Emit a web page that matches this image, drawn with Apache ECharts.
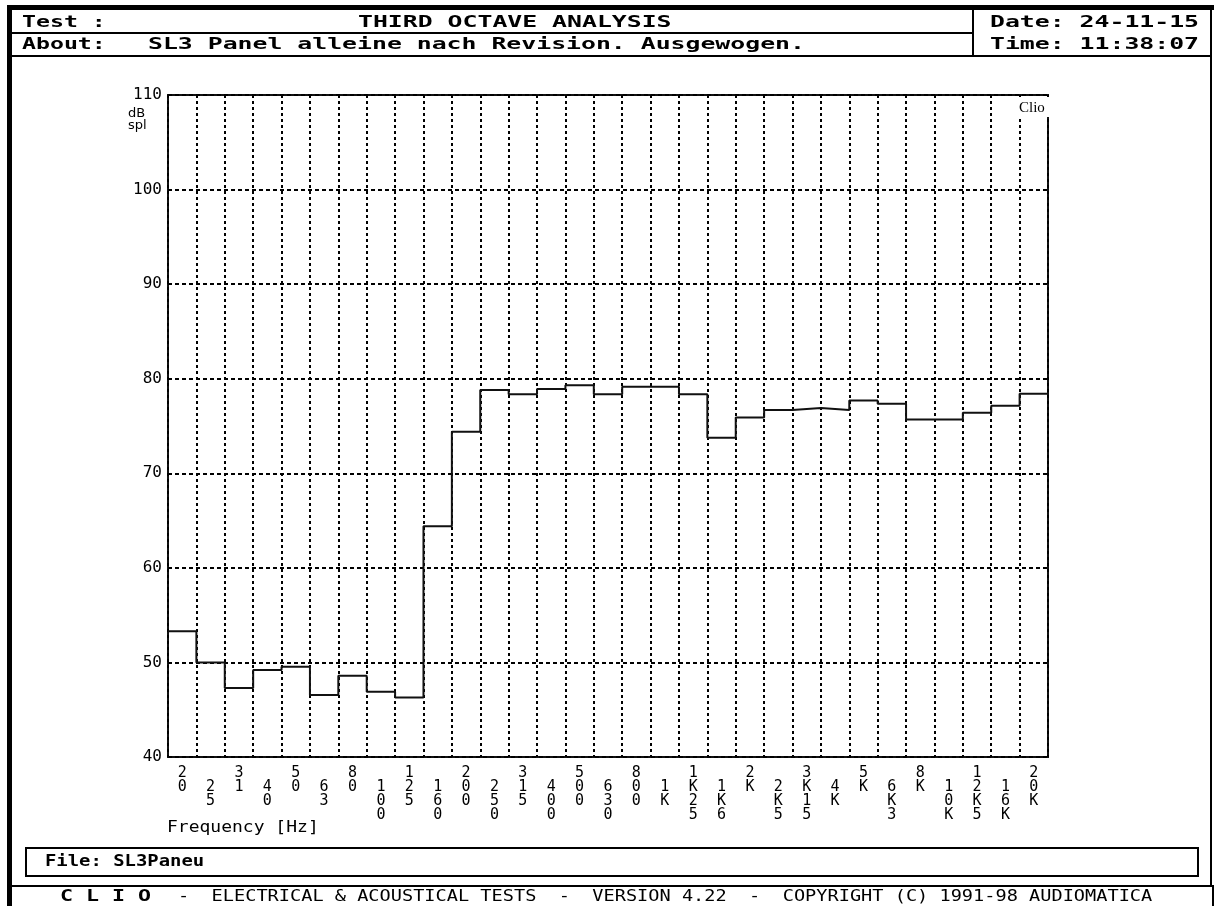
<!DOCTYPE html>
<html>
<head>
<meta charset="utf-8">
<title>Third octave analysis</title>
<script src="https://cdn.jsdelivr.net/npm/echarts@6/dist/echarts.min.js"></script>
<style>
  html, body { margin: 0; padding: 0; background: #fff; }
  #chart { width: 1214px; height: 906px; }
</style>
</head>
<body>
<div id="chart"></div>
<script>
// third octave bands (labels) and measured levels in dB spl
var bands = ['20', '25', '31', '40', '50', '63', '80', '100', '125', '160',
             '200', '250', '315', '400', '500', '630', '800', '1K', '1K25', '1K6',
             '2K', '2K5', '3K15', '4K', '5K', '6K3', '8K', '10K', '12K5', '16K', '20K'];
var levels = [53.3, 50.0, 47.3, 49.2, 49.55, 46.55, 48.6, 46.9, 46.3, 64.4,
              74.4, 78.8, 78.35, 78.9, 79.3, 78.35, 79.15, 79.15, 78.35, 73.75,
              75.9, 76.7, 76.9, 76.7, 77.7, 77.35, 75.7, 75.7, 76.4, 77.15, 78.4];
var yMin = 40, yMax = 110, yStep = 10;

// each band is drawn from its left edge to the next one
var stepData = levels.map(function (v, i) { return [i, v]; });
stepData.push([levels.length, levels[levels.length - 1]]);

var mono = '"DejaVu Sans Mono", monospace';

function txt(x, y, text, font, sx, extra) {
    var o = {
        type: 'text', x: x, y: y, scaleX: sx || 1, z: 100,
        style: {
            text: text, font: font, fill: '#000',
            textAlign: 'left', textVerticalAlign: 'middle',
            align: 'left', verticalAlign: 'middle'
        }
    };
    if (extra) { for (var k in extra) o.style[k] = extra[k]; }
    return o;
}
function ln(x1, y1, x2, y2, w) {
    return { type: 'line', z: 100, shape: { x1: x1, y1: y1, x2: x2, y2: y2 },
             style: { stroke: '#000', lineWidth: w || 2 } };
}

var myChart = echarts.init(document.getElementById('chart'), null, { renderer: 'canvas' });
var option = {
    animation: false,
    backgroundColor: '#fff',
    grid: {
        left: 168, top: 95, right: 166, bottom: 149,
        show: true, borderColor: '#111', borderWidth: 2, backgroundColor: 'transparent'
    },
    xAxis: [
        {
            type: 'value', min: 0, max: bands.length, interval: 1,
            axisLine: { show: false }, axisTick: { show: false }, axisLabel: { show: false },
            splitLine: { show: true, lineStyle: { color: '#000', width: 2, type: [3, 3] } }
        },
        {
            type: 'category', data: bands, boundaryGap: true, position: 'bottom',
            axisLine: { show: false }, axisTick: { show: false }, splitLine: { show: false },
            axisLabel: {
                interval: 0, margin: 9, color: '#000',
                fontFamily: 'DejaVu Sans Mono', fontSize: 15, lineHeight: 14,
                verticalAlign: 'top',
                formatter: function (val, idx) {
                    return (idx % 2 ? '\n' : '') + val.split('').join('\n');
                }
            }
        }
    ],
    yAxis: {
        type: 'value', min: yMin, max: yMax, interval: yStep,
        axisLine: { show: false }, axisTick: { show: false },
        axisLabel: { color: '#000', fontFamily: 'DejaVu Sans Mono', fontSize: 16, margin: 6 },
        splitLine: { show: true, lineStyle: { color: '#000', width: 2, type: [4, 3] } }
    },
    series: [{
        type: 'line', xAxisIndex: 0, step: 'end', data: stepData,
        symbol: 'none', lineStyle: { color: '#111', width: 2 }
    }],
    graphic: [
        // page frame
        { type: 'rect', z: 100, shape: { x: 7, y: 5, width: 5, height: 901 }, style: { fill: '#000' } },
        { type: 'rect', z: 100, shape: { x: 7, y: 5, width: 1207, height: 5 }, style: { fill: '#000' } },
        ln(1211, 10, 1211, 886),
        ln(1213, 886, 1213, 906),
        ln(12, 33, 973, 33),
        ln(12, 56, 1212, 56),
        ln(973, 10, 973, 56),
        ln(12, 886, 1214, 886),
        { type: 'rect', z: 100, shape: { x: 26, y: 848, width: 1172, height: 28 },
          style: { fill: 'none', stroke: '#000', lineWidth: 2 } },
        // header texts
        txt(22, 23, 'Test :', 'bold 16px ' + mono, 1.45),
        txt(358, 23, 'THIRD OCTAVE ANALYSIS', 'bold 16px ' + mono, 1.55),
        txt(22, 45, 'About:', 'bold 16px ' + mono, 1.45),
        txt(148, 45, 'SL3 Panel alleine nach Revision. Ausgewogen.', 'bold 16px ' + mono, 1.55),
        txt(990, 23, 'Date: 24-11-15', 'bold 16px ' + mono, 1.55),
        txt(990, 45, 'Time: 11:38:07', 'bold 16px ' + mono, 1.55),
        // chart annotations
        txt(128, 114, 'dB', '13px "DejaVu Sans"', 1),
        txt(128, 126, 'spl', '13px "DejaVu Sans"', 1),
        { type: 'rect', z: 99, shape: { x: 1016, y: 97, width: 36, height: 20 }, style: { fill: '#fff' } },
        txt(1019, 108, 'Clio', '15px "Liberation Serif"', 1),
        txt(167, 828, 'Frequency [Hz]', '15px ' + mono, 1.2),
        // footer
        txt(45, 862, 'File: SL3Paneu', 'bold 16px ' + mono, 1.18),
        txt(60, 897, 'C L I O', 'bold 16px ' + mono, 1.35),
        txt(178, 897, '-  ELECTRICAL & ACOUSTICAL TESTS  -  VERSION 4.22  -  COPYRIGHT (C) 1991-98 AUDIOMATICA', '15px ' + mono, 1.24)
    ]
};
myChart.setOption(option);
</script>
</body>
</html>
